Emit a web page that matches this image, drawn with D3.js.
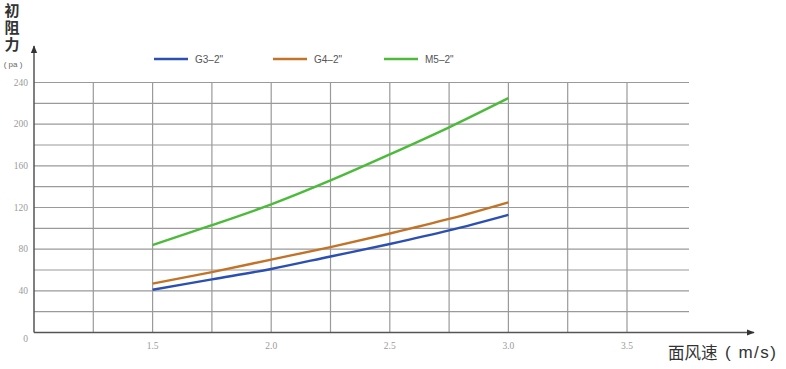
<!DOCTYPE html>
<html><head><meta charset="utf-8">
<script src="https://cdn.jsdelivr.net/npm/d3@7"></script>
<style>body{margin:0;background:#fff}svg{display:block}</style>
</head><body>
<svg id="c" width="786" height="369"></svg>
<script>
const speeds = [1.5, 1.75, 2.0, 2.25, 2.5, 2.75, 3.0];
const g3 = [41, 51, 61, 73, 85, 98, 113];
const g4 = [47, 58, 70, 82, 95, 109, 125];
const m5 = [84, 103, 123, 146, 171, 197, 225];
const seriesNames = ["G3\u20132\"", "G4\u20132\"", "M5\u20132\""];
const seriesColors = ["#2b4fb3", "#c27327", "#4cbb3b"];
const xTicks = [1.5, 2.0, 2.5, 3.0, 3.5];
const xGrid = [1.25, 1.5, 1.75, 2.0, 2.25, 2.5, 2.75, 3.0, 3.25, 3.5];
const yTicks = [0, 40, 80, 120, 160, 200, 240];
const yGrid = [20, 40, 60, 80, 100, 120, 140, 160, 180, 200, 220, 240];

const svg = d3.select("#c");
const x = d3.scaleLinear().domain([1.0, 3.5]).range([34, 627]);
const y = d3.scaleLinear().domain([0, 240]).range([332.5, 82.5]);
const gridRight = 689;

// grid
svg.append("g").selectAll("line").data(yGrid).join("line")
  .attr("x1", 34).attr("x2", gridRight)
  .attr("y1", d => y(d)).attr("y2", d => y(d))
  .attr("stroke", "#9a9a9a").attr("stroke-width", 1.2);
svg.append("g").selectAll("line").data(xGrid).join("line")
  .attr("x1", d => x(d)).attr("x2", d => x(d))
  .attr("y1", y(240)).attr("y2", y(0))
  .attr("stroke", "#9a9a9a").attr("stroke-width", 1.2);

// arrow marker
const defs = svg.append("defs");
defs.append("marker").attr("id", "arr").attr("viewBox", "0 0 10 10")
  .attr("refX", 9).attr("refY", 5).attr("markerWidth", 8).attr("markerHeight", 8)
  .attr("markerUnits", "userSpaceOnUse").attr("orient", "auto")
  .append("path").attr("d", "M0,1 L10,5 L0,9 Z").attr("fill", "#333");

// axes
svg.append("line").attr("x1", 34).attr("x2", 34).attr("y1", y(0)).attr("y2", 46)
  .attr("stroke", "#555").attr("stroke-width", 1.5).attr("marker-end", "url(#arr)");
svg.append("line").attr("x1", 34).attr("x2", 754).attr("y1", y(0)).attr("y2", y(0))
  .attr("stroke", "#555").attr("stroke-width", 1.5).attr("marker-end", "url(#arr)");

// tick labels
svg.append("g").selectAll("text").data(yTicks).join("text")
  .attr("x", 28).attr("y", d => d === 0 ? y(0) + 9 : y(d) + 3)
  .attr("text-anchor", "end")
  .attr("font-family", "'Liberation Serif', 'DejaVu Serif', serif").attr("font-size", 9.5)
  .attr("fill", "#9a9a9a").text(d => d);
svg.append("g").selectAll("text").data(xTicks).join("text")
  .attr("x", d => x(d)).attr("y", 349)
  .attr("text-anchor", "middle")
  .attr("font-family", "'Liberation Serif', 'DejaVu Serif', serif").attr("font-size", 9.5)
  .attr("fill", "#9a9a9a").text(d => d.toFixed(1));

// axis titles
svg.append("text").attr("x", 12).attr("y", 3)
  .attr("writing-mode", "vertical-rl")
  .style("writing-mode", "vertical-rl")
  .attr("letter-spacing", 2)
  .attr("font-family", "'Noto Sans CJK SC'").attr("font-weight", "bold").attr("font-size", 15)
  .attr("fill", "#333").text("初阻力");
svg.append("text").attr("x", 13).attr("y", 67).attr("text-anchor", "middle")
  .attr("font-family", "'Liberation Sans', sans-serif").attr("font-size", 8)
  .attr("fill", "#666").text("( pa )");
svg.append("text").attr("x", 668).attr("y", 359)
  .attr("font-family", "'Noto Sans CJK SC'").attr("font-size", 16.5)
  .attr("fill", "#333").text("面风速");
svg.append("text").attr("x", 725).attr("y", 358)
  .attr("font-family", "'Liberation Sans', sans-serif").attr("font-size", 17)
  .attr("letter-spacing", 1.5)
  .attr("fill", "#333").text("( m/s)");

// lines
const data = [g3, g4, m5];
const line = d3.line().x((d, i) => x(speeds[i])).y(d => y(d)).curve(d3.curveMonotoneX);
svg.append("g").selectAll("path").data(data).join("path")
  .attr("d", d => line(d)).attr("fill", "none")
  .attr("stroke", (d, i) => seriesColors[i]).attr("stroke-width", 2.4);

// legend
const legX = [154, 273, 384];
const lg = svg.append("g").selectAll("g").data(seriesNames).join("g")
  .attr("transform", (d, i) => `translate(${legX[i]},59)`);
lg.append("line").attr("x1", 0).attr("x2", 34).attr("y1", 0).attr("y2", 0)
  .attr("stroke", (d, i) => seriesColors[i]).attr("stroke-width", 2.6);
lg.append("text").attr("x", 41).attr("y", 3.5)
  .attr("font-family", "'Liberation Sans', sans-serif").attr("font-size", 10)
  .attr("fill", "#555").text(d => d);
</script>
</body></html>
